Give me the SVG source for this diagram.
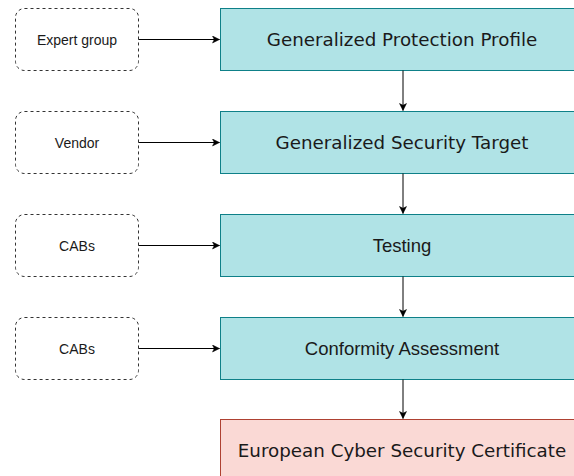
<svg xmlns="http://www.w3.org/2000/svg" width="574" height="476" viewBox="0 0 574 476">
<style>
.src rect{fill:#fff;stroke:#333;stroke-width:1;stroke-dasharray:3 3}
.src text{font-family:"Liberation Sans",Arial,sans-serif;font-size:14px;fill:#1a1a1a;text-anchor:middle;dominant-baseline:central}
.step rect{fill:#b0e3e6;stroke:#0e8088;stroke-width:1}
.cert rect{fill:#fad9d5;stroke:#ae4132;stroke-width:1}
.dv{font-family:"DejaVu Sans",sans-serif;font-size:18.3px;fill:#1a1a1a;text-anchor:middle;dominant-baseline:central}
.ar{font-family:"Liberation Sans",Arial,sans-serif;font-size:18.5px;fill:#1a1a1a;text-anchor:middle;dominant-baseline:central}
.conn path{fill:none;stroke:#000;stroke-width:1}
</style>
<defs>
<marker id="ah" markerWidth="10" markerHeight="10" refX="8" refY="4" orient="auto" markerUnits="userSpaceOnUse">
<path d="M1,0.5 L8,4 L1,7.5 L2.75,4 Z" fill="#000" stroke="#000" stroke-width="0.5"/>
</marker>
</defs>
<g id="expert" class="src"><rect x="15.5" y="8.5" width="123" height="62" rx="9"/><text x="77" y="39.5">Expert group</text></g>
<g id="vendor" class="src"><rect x="15.5" y="111.5" width="123" height="62" rx="9"/><text x="77" y="142.5">Vendor</text></g>
<g id="cabs1" class="src"><rect x="15.5" y="214.5" width="123" height="62" rx="9"/><text x="77" y="245.5">CABs</text></g>
<g id="cabs2" class="src"><rect x="15.5" y="317.5" width="123" height="62" rx="9"/><text x="77" y="348.5">CABs</text></g>
<g id="gpp" class="step"><rect x="220.5" y="8.5" width="365" height="62"/><text class="dv" x="402" y="39">Generalized Protection Profile</text></g>
<g id="gst" class="step"><rect x="220.5" y="111.5" width="365" height="62"/><text class="dv" x="402" y="142">Generalized Security Target</text></g>
<g id="testing" class="step"><rect x="220.5" y="214.5" width="365" height="62"/><text class="ar" x="402" y="245">Testing</text></g>
<g id="conformity" class="step"><rect x="220.5" y="317.5" width="365" height="62"/><text class="ar" x="402" y="348">Conformity Assessment</text></g>
<g id="cert" class="cert"><rect x="220.5" y="419.5" width="365" height="62"/><text class="dv" x="402" y="450">European Cyber Security Certificate</text></g>
<g id="connectors" class="conn">
<path d="M138.5,39.5 H219.5" marker-end="url(#ah)"/>
<path d="M138.5,142.5 H219.5" marker-end="url(#ah)"/>
<path d="M138.5,245.5 H219.5" marker-end="url(#ah)"/>
<path d="M138.5,348.5 H219.5" marker-end="url(#ah)"/>
<path d="M403,70.5 V110.5" marker-end="url(#ah)"/>
<path d="M403,173.5 V213.5" marker-end="url(#ah)"/>
<path d="M403,276.5 V316.5" marker-end="url(#ah)"/>
<path d="M403,379.5 V418.5" marker-end="url(#ah)"/>
</g>
</svg>
